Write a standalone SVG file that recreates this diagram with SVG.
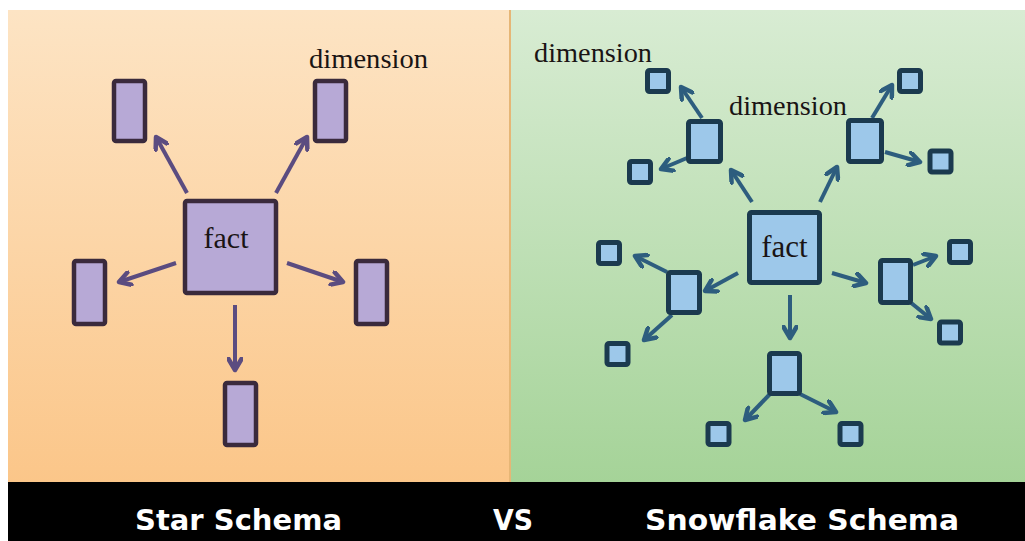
<svg xmlns="http://www.w3.org/2000/svg" width="1025" height="541" viewBox="0 0 1025 541">
<style>
.star{fill:#b7a9d6;stroke:#3a2a3c;stroke-width:4.5}
.snow{fill:#9dc8ea;stroke:#1b3a4f;stroke-width:5}
.la{fill:none;stroke:#5b4c80;stroke-width:4}
.ra{fill:none;stroke:#2d5d7e;stroke-width:4}
.lbl{font-family:"Liberation Serif","Times New Roman",serif;fill:#1a1414}
.cap{font-family:"DejaVu Sans",Verdana,sans-serif;font-weight:bold;fill:#ffffff;font-size:28px}
</style>
<defs>
<linearGradient id="gl" x1="0" y1="0" x2="0" y2="1">
<stop offset="0" stop-color="#fde4c4"/>
<stop offset="1" stop-color="#fbc689"/>
</linearGradient>
<linearGradient id="gr" x1="0" y1="0" x2="0" y2="1">
<stop offset="0" stop-color="#d8ecd3"/>
<stop offset="1" stop-color="#a5d398"/>
</linearGradient>
<marker id="ap" viewBox="0 0 16 16" refX="13" refY="8" markerWidth="16" markerHeight="16" markerUnits="userSpaceOnUse" orient="auto">
<path d="M2,1.5 L13,8 L2,14.5" fill="none" stroke="#5b4c80" stroke-width="4.5" stroke-linejoin="round" stroke-linecap="round"/>
</marker>
<marker id="ab" viewBox="0 0 16 16" refX="13" refY="8" markerWidth="16" markerHeight="16" markerUnits="userSpaceOnUse" orient="auto">
<path d="M2,1.5 L13,8 L2,14.5" fill="none" stroke="#2d5d7e" stroke-width="4.5" stroke-linejoin="round" stroke-linecap="round"/>
</marker>
</defs>
<rect x="0" y="0" width="1025" height="541" fill="#ffffff"/>
<rect x="8" y="10" width="501" height="473" fill="url(#gl)"/>
<rect x="510" y="10" width="515" height="473" fill="url(#gr)"/>
<line x1="510" y1="10" x2="510" y2="483" stroke="#e6b676" stroke-width="2"/>
<rect x="8" y="482" width="1017" height="59" fill="#000000"/>

<g id="connectors">
<line class="la" x1="187" y1="193" x2="156" y2="137" marker-end="url(#ap)"/>
<line class="la" x1="276" y1="193" x2="307" y2="137" marker-end="url(#ap)"/>
<line class="la" x1="176" y1="263" x2="119" y2="282" marker-end="url(#ap)"/>
<line class="la" x1="287" y1="263" x2="343" y2="282" marker-end="url(#ap)"/>
<line class="la" x1="235" y1="305" x2="235" y2="370" marker-end="url(#ap)"/>

<line class="ra" x1="752" y1="202" x2="731" y2="170" marker-end="url(#ab)"/>
<line class="ra" x1="820" y1="202" x2="837" y2="167" marker-end="url(#ab)"/>
<line class="ra" x1="702" y1="118" x2="681" y2="87" marker-end="url(#ab)"/>
<line class="ra" x1="687" y1="158" x2="661" y2="169" marker-end="url(#ab)"/>
<line class="ra" x1="872" y1="118" x2="892" y2="85" marker-end="url(#ab)"/>
<line class="ra" x1="885" y1="152" x2="920" y2="162" marker-end="url(#ab)"/>
<line class="ra" x1="738" y1="273" x2="705" y2="291" marker-end="url(#ab)"/>
<line class="ra" x1="667" y1="272" x2="635" y2="256" marker-end="url(#ab)"/>
<line class="ra" x1="672" y1="315" x2="644" y2="340" marker-end="url(#ab)"/>
<line class="ra" x1="832" y1="273" x2="866" y2="283" marker-end="url(#ab)"/>
<line class="ra" x1="913" y1="265" x2="936" y2="256" marker-end="url(#ab)"/>
<line class="ra" x1="910" y1="302" x2="931" y2="319" marker-end="url(#ab)"/>
<line class="ra" x1="790" y1="295" x2="790" y2="338" marker-end="url(#ab)"/>
<line class="ra" x1="770" y1="394" x2="745" y2="420" marker-end="url(#ab)"/>
<line class="ra" x1="800" y1="394" x2="836" y2="412" marker-end="url(#ab)"/>
</g>

<g id="star-fact"><rect class="star" x="185" y="201" width="91" height="92" rx="2"/><text class="lbl" x="226" y="248" font-size="30" text-anchor="middle">fact</text></g>
<g id="star-dim-tl"><rect class="star" x="114" y="81" width="31" height="60" rx="2"/></g>
<g id="star-dim-tr"><rect class="star" x="315" y="81" width="31" height="60" rx="2"/></g>
<g id="star-dim-l"><rect class="star" x="74" y="261" width="31" height="63" rx="2"/></g>
<g id="star-dim-r"><rect class="star" x="356" y="261" width="31" height="63" rx="2"/></g>
<g id="star-dim-b"><rect class="star" x="225" y="383" width="31" height="62" rx="2"/></g>
<g id="star-label"><text class="lbl" x="309" y="68" font-size="27" textLength="119" lengthAdjust="spacingAndGlyphs">dimension</text></g>

<g id="snow-fact"><rect class="snow" x="749.5" y="212.5" width="70" height="70" rx="2"/><text class="lbl" x="784.5" y="257" font-size="31" text-anchor="middle">fact</text></g>
<g id="snow-m1"><rect class="snow" x="688.5" y="121.5" width="32" height="40" rx="2"/></g>
<g id="snow-m2"><rect class="snow" x="848.5" y="120.5" width="33" height="41" rx="2"/></g>
<g id="snow-m3"><rect class="snow" x="668.5" y="272.5" width="31" height="40" rx="2"/></g>
<g id="snow-m4"><rect class="snow" x="880.5" y="260.5" width="30" height="42" rx="2"/></g>
<g id="snow-m5"><rect class="snow" x="769.5" y="353.5" width="30" height="40" rx="2"/></g>
<g id="snow-s1"><rect class="snow" x="647.5" y="70.5" width="21" height="21" rx="2"/></g>
<g id="snow-s2"><rect class="snow" x="629.5" y="161.5" width="21" height="21" rx="2"/></g>
<g id="snow-s3"><rect class="snow" x="899.5" y="70.5" width="21" height="21" rx="2"/></g>
<g id="snow-s4"><rect class="snow" x="930" y="151" width="21" height="21" rx="2"/></g>
<g id="snow-s5"><rect class="snow" x="598.5" y="242.5" width="21" height="21" rx="2"/></g>
<g id="snow-s6"><rect class="snow" x="607" y="343.5" width="21" height="21" rx="2"/></g>
<g id="snow-s7"><rect class="snow" x="949.5" y="241.5" width="21" height="21" rx="2"/></g>
<g id="snow-s8"><rect class="snow" x="939.5" y="322" width="21" height="21" rx="2"/></g>
<g id="snow-s9"><rect class="snow" x="708" y="423.5" width="21" height="21" rx="2"/></g>
<g id="snow-s10"><rect class="snow" x="840" y="423.5" width="21" height="21" rx="2"/></g>
<g id="snow-labels">
<text class="lbl" x="534" y="62" font-size="27" textLength="118" lengthAdjust="spacingAndGlyphs">dimension</text>
<text class="lbl" x="729" y="115" font-size="27" textLength="118" lengthAdjust="spacingAndGlyphs">dimension</text>
</g>

<g id="caption">
<text class="cap" x="135" y="530" textLength="207" lengthAdjust="spacingAndGlyphs">Star Schema</text>
<text class="cap" x="493" y="530" textLength="40" lengthAdjust="spacingAndGlyphs">VS</text>
<text class="cap" x="645" y="530" textLength="314" lengthAdjust="spacingAndGlyphs">Snowflake Schema</text>
</g>
</svg>
